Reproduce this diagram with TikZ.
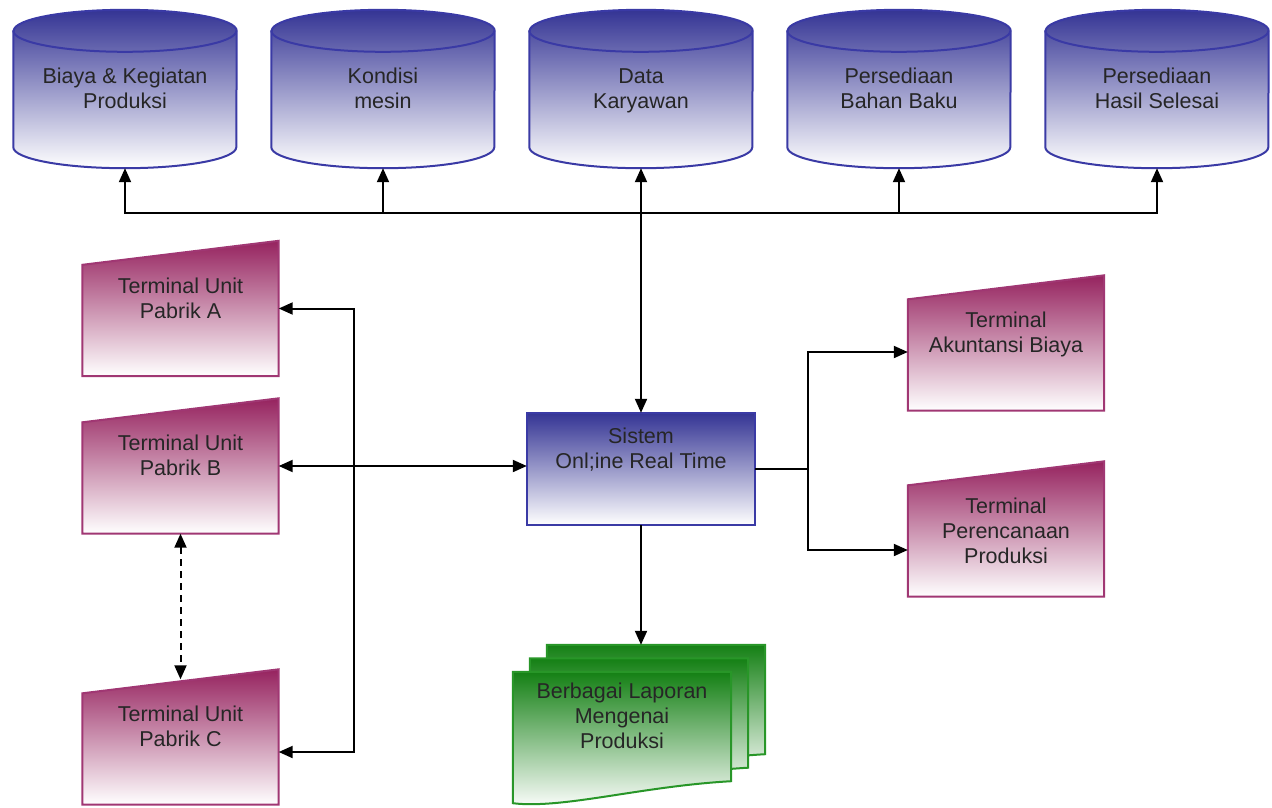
\documentclass[tikz,border=0pt]{standalone}
\usepackage{fontspec}
\setmainfont{Liberation Sans}
\usetikzlibrary{positioning,arrows.meta,backgrounds}
\definecolor{dbblue}{RGB}{52,52,148}
\definecolor{dbline}{RGB}{58,58,165}
\definecolor{tmred}{RGB}{150,35,95}
\definecolor{tmline}{RGB}{160,55,115}
\definecolor{rpgreen}{RGB}{20,128,20}
\definecolor{rpline}{RGB}{40,150,40}

\begin{document}
\begin{tikzpicture}[x=1pt,y=-1pt,node distance=258pt,on grid,
    >={Triangle[length=14pt,width=12pt]},
    every node/.style={inner sep=0pt,align=center,text=black!85,
      font=\fontsize{21.5pt}{25pt}\selectfont},
    store/.style={minimum width=223pt,minimum height=158pt,text height=98pt,text depth=60pt},
    term/.style={minimum width=196pt,minimum height=135pt,text height=77pt,text depth=58pt},
    proc/.style={minimum width=228pt,minimum height=112pt,text height=55pt,text depth=57pt},
    doc/.style={minimum width=218pt,minimum height=131pt,text height=76pt,text depth=55pt},
    flow/.style={line width=2pt}]
  \useasboundingbox (0,0) rectangle (1272,807);

  \node[store] (DB_1) at (125,89) {Biaya \& Kegiatan\\Produksi};
  \node[store] (DB_2) [right=of DB_1] {Kondisi\\mesin};
  \node[store] (DB_3) [right=of DB_2] {Data\\Karyawan};
  \node[store] (DB_4) [right=of DB_3] {Persediaan\\Bahan Baku};
  \node[store] (DB_5) [right=of DB_4] {Persediaan\\Hasil Selesai};
  \node[proc] (S) [below=380pt of DB_3] {Sistem\\Onl;ine Real Time};
  \node[term] (T_A) at (180.5,308.5) {Terminal Unit\\Pabrik A};
  \node[term] (T_B) at (180.5,466) {Terminal Unit\\Pabrik B};
  \node[term] (T_C) at (180.5,737) {Terminal Unit\\Pabrik C};
  \node[term] (T_AB) at (1006,343) {Terminal\\Akuntansi Biaya};
  \node[term,text height=102pt,text depth=33pt] (T_PP) at (1006,529) {Terminal\\Perencanaan\\Produksi};
  \node[doc] (R_3) at (656,710.5) {};
  \node[doc] (R_2) at (639,724) {};
  \node[doc] (R_1) at (622,737.5) {Berbagai Laporan\\Mengenai\\Produksi};

  \begin{scope}[on background layer]
    \foreach \n in {DB_1,DB_2,DB_3,DB_4,DB_5}{
      \path[top color=dbblue,bottom color=white,draw=dbline,line width=2pt]
        ([yshift=-21pt]\n.north west) -- ([yshift=21pt]\n.south west)
        arc[start angle=180,end angle=360,x radius=111.5pt,y radius=21pt]
        -- ([yshift=-21pt]\n.north east)
        arc[start angle=0,end angle=180,x radius=111.5pt,y radius=21pt] -- cycle;
      \draw[dbline,line width=2pt] ([yshift=-21pt]\n.north west)
        arc[start angle=180,end angle=360,x radius=111.5pt,y radius=21pt];
    }
    \path[top color=dbblue,bottom color=white,draw=dbline,line width=2pt]
      (S.north west) rectangle (S.south east);
    \foreach \n in {T_A,T_B,T_C,T_AB,T_PP}
      \path[top color=tmred,bottom color=white,draw=tmline,line width=2pt]
        (\n.south west) -- ([yshift=-24pt]\n.north west) -- (\n.north east)
        -- (\n.south east) -- cycle;
    \foreach \n in {R_3,R_2,R_1}
      \path[top color=rpgreen,bottom color=white,draw=rpline,line width=2pt]
        (\n.north west) -- (\n.north east) -- ([yshift=22pt]\n.south east)
        .. controls +(-90,5) and +(50,6) .. (\n.south west) -- cycle;
  \end{scope}

  \coordinate (J_top) at (641,213);
  \coordinate (J_left) at (354,466);
  \coordinate (J_right) at (808,469);
  \path[flow]
    (S) edge[<->] (DB_3)
    (S) edge[->] (S |- R_3.north)
    (T_B) edge[<->] (T_B -| S.west)
    (T_B) edge[<->,dash pattern=on 7pt off 5pt] ([yshift=-10pt]T_C.north);
  \foreach \n in {DB_1,DB_2,DB_4,DB_5}
    \draw[->,flow] (J_top) -| (\n);
  \draw[->,flow] (J_left) |- (T_A);
  \draw[->,flow] (J_left) |- ([yshift=-15pt]T_C.east);
  \draw[flow] (S) -- (J_right);
  \draw[->,flow] (J_right) |- ([yshift=-9pt]T_AB.west);
  \draw[->,flow] (J_right) |- ([yshift=-21pt]T_PP.west);
\end{tikzpicture}
\end{document}
